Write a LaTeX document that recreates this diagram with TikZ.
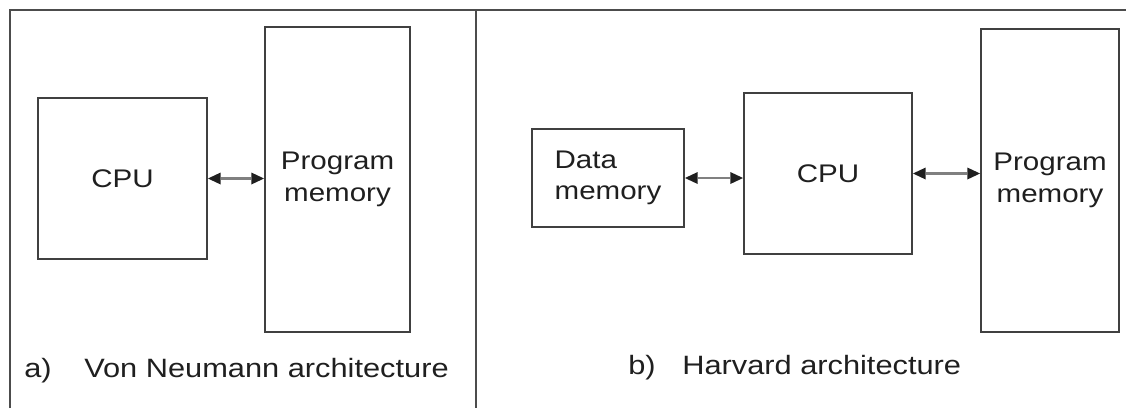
\documentclass[tikz,border=0pt]{standalone}
\usepackage{fontspec}
\setmainfont{Liberation Sans}[FakeStretch=1.16]
\usetikzlibrary{arrows.meta}
\tikzset{
  box/.style={draw=black!75, line width=1.5pt, inner sep=0pt, align=center,
    text=black!88, font=\fontsize{19.1}{23.5}\selectfont},
  link/.style={draw=black!50, line width=1.9pt,
    {Triangle[length=9.5pt,width=9pt,color=black!88,line width=0pt]}-{Triangle[length=9.5pt,width=9pt,color=black!88,line width=0pt]}},
  frame/.style={draw=black!70, line width=1.2pt},
  caption/.style={anchor=base west, inner sep=0pt, text=black!88,
    font=\fontsize{19.9}{24}\selectfont}
}
\begin{document}
\begin{tikzpicture}[x=0.75pt,y=-0.75pt]
\useasboundingbox (0,0) rectangle (1126,408);
% frame
\draw[frame] (10,408) -- (10,10) -- (1126,10);
\draw[frame, line width=1.5pt] (476,10) -- (476,408);
% a) Von Neumann
\node[box, minimum width=169*0.75pt, minimum height=161*0.75pt] (cpua) at (122.5,178.5) {CPU};
\node[box, minimum width=145*0.75pt, minimum height=305*0.75pt] (pma) at (337.5,179.5) {Program\\memory};
\draw[link] (cpua.east) -- (pma.west |- cpua.east);
% b) Harvard
\node[box, align=left, minimum width=152*0.75pt, minimum height=98*0.75pt] (dm) at (608,178) {Data\\memory};
\node[box, minimum width=168*0.75pt, minimum height=161*0.75pt] (cpub) at (828,173.5) {CPU};
\node[box, minimum width=138*0.75pt, minimum height=303*0.75pt] (pmb) at (1050,180.5) {Program\\memory};
\draw[link] (dm.east) -- (cpub.west |- dm.east);
\draw[link] (cpub.east) -- (pmb.west |- cpub.east);
% captions
\node[caption] (la) at (24,377) {a)};
\node[caption] (ta) at (84,377) {Von Neumann architecture};
\node[caption] (lb) at (628,374) {b)};
\node[caption] (tb) at (682,374) {Harvard architecture};
\end{tikzpicture}
\end{document}
